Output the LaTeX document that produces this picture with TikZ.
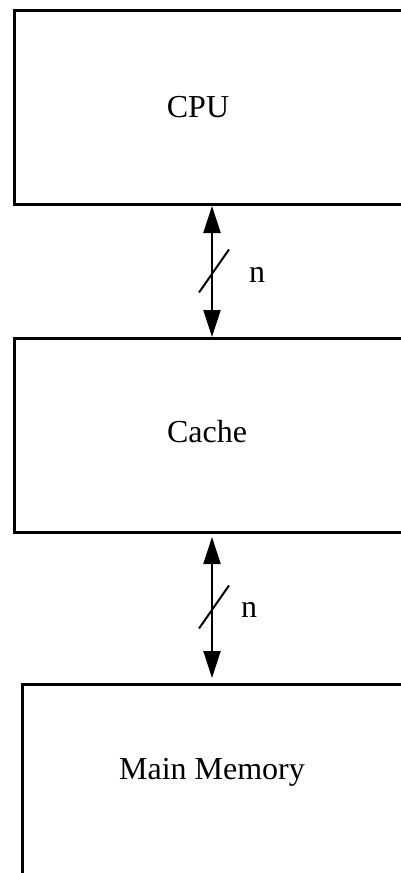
\documentclass[tikz,border=0pt]{standalone}
\usepackage{fontspec}
\setmainfont{Liberation Serif}
\usetikzlibrary{arrows.meta,calc}
\tikzset{
    unit box/.style={draw=black,line width=3pt,rectangle,anchor=north west,
      inner sep=0pt},
    bus line/.style={line width=2pt,draw=black,
      {Triangle[width=17pt,length=27pt]}-{Triangle[width=17pt,length=27pt]}},
    width mark/.style={line width=2pt,draw=black},
    box text/.style={font=\fontsize{32}{38}\selectfont}
}

\begin{document}
\begin{tikzpicture}[x=1pt,y=-1pt]
  \useasboundingbox (0,0) rectangle (401,873);
  \clip (0,0) rectangle (401,873);

  % units
  \node [unit box, minimum width=420pt, minimum height=194pt] (cpu) at (13,9) {};
  \node [unit box, minimum width=420pt, minimum height=194pt] (cache) at (13,337) {};
  \node [unit box, minimum width=420pt, minimum height=220pt] (mem) at (21,683) {};

  \node [box text] (cpu_t) at (198,107) {CPU};
  \node [box text] (cache_t) at (207,432) {Cache};
  \node [box text] (mem_t) at (212,772) {Main Memory};

  % buses
  \coordinate (busx) at (212,0);
  \draw [bus line] (cpu.south -| busx) -- coordinate (mid1) (cache.north -| busx);
  \draw [bus line] ($(cache.south -| busx)+(0,3)$) -- coordinate (mid2)
    ($(mem.north -| busx)+(0,-5)$);

  \draw [width mark] ($(mid1)+(-13,21)$) -- ($(mid1)+(17,-22)$);
  \node [box text] (n1) at (257,275) {n};
  \draw [width mark] ($(mid2)+(-13,21)$) -- ($(mid2)+(17,-22)$);
  \node [box text] (n2) at (249,610) {n};
\end{tikzpicture}
\end{document}
